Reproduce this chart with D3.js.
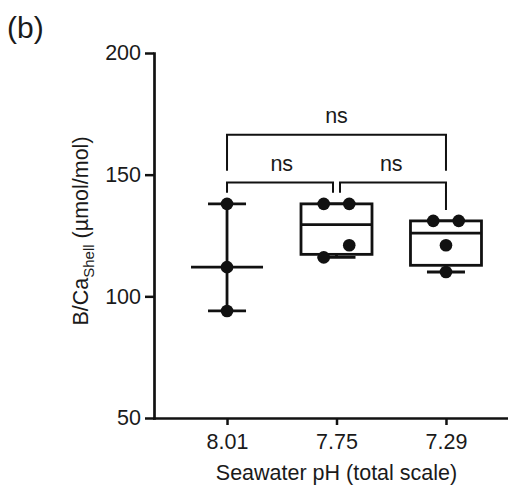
<!DOCTYPE html>
<html>
<head>
<meta charset="utf-8">
<script src="https://cdn.jsdelivr.net/npm/d3@7/dist/d3.min.js"></script>
<style>
  html, body { margin: 0; padding: 0; background: #fff; }
  svg { display: block; font-family: "Liberation Sans", Arial, sans-serif; }
</style>
</head>
<body>
<svg id="chart" width="508" height="487"></svg>
<script>
// Seawater pH treatments (total scale)
const categories = ["8.01", "7.75", "7.29"];
// Shell B/Ca per replicate (µmol/mol)
const ph801 = [138, 112, 94];
const ph775 = [138, 138, 121, 116];
const ph729 = [131, 131, 121, 110];
const yTicks = [50, 100, 150, 200];
// Pairwise comparisons: [group A, group B, result]
const comparisons = [
  ["8.01", "7.75", "ns"],
  ["7.75", "7.29", "ns"],
  ["8.01", "7.29", "ns"]
];

const groups = categories.map((c, i) => ({ cat: c, values: [ph801, ph775, ph729][i] }));

const svg = d3.select("#chart");
const ink = "#111";
const fontSize = 21.5;

const x = d3.scalePoint().domain(categories).range([154, 519]).padding(0.667);
const y = d3.scaleLinear().domain([50, 200]).range([418, 53]);

// Quantile using the (n+1)p rank convention
function quant(sortedAsc, p) {
  const n = sortedAsc.length;
  const r = (n + 1) * p;
  if (r <= 1) return sortedAsc[0];
  if (r >= n) return sortedAsc[n - 1];
  const lo = Math.floor(r);
  return sortedAsc[lo - 1] + (r - lo) * (sortedAsc[lo] - sortedAsc[lo - 1]);
}

// Axes
const yAxis = svg.append("g")
  .attr("transform", "translate(154,0)")
  .call(d3.axisLeft(y).tickValues(yTicks).tickSize(9).tickSizeOuter(0).tickPadding(4));
const xAxis = svg.append("g")
  .attr("transform", "translate(0,418)")
  .call(d3.axisBottom(x).tickSize(7).tickSizeOuter(0).tickPadding(8.5));
[yAxis, xAxis].forEach(g => {
  g.select(".domain").attr("stroke", ink).attr("stroke-width", 2.7).attr("stroke-linecap", "square");
  g.selectAll(".tick line").attr("stroke", ink).attr("stroke-width", 2.5);
  g.selectAll(".tick text").attr("fill", "#1a1a1a").style("font-size", fontSize + "px")
    .style("font-family", '"Liberation Sans", Arial, sans-serif');
});

// Summary marks per group
const boxW = 71, capW = 38, medW = 72, lw = 2.8;
const marks = svg.append("g").attr("stroke", ink).attr("stroke-width", lw).attr("fill", "none");
groups.forEach(g => {
  const s = g.values.slice().sort(d3.ascending);
  const cx = x(g.cat);
  const mn = s[0], mx = s[s.length - 1];
  const med = d3.median(s);
  if (s.length < 4) {
    // median with range
    marks.append("line").attr("x1", cx).attr("x2", cx).attr("y1", y(mx)).attr("y2", y(mn));
    [mn, mx].forEach(v => marks.append("line")
      .attr("x1", cx - capW / 2).attr("x2", cx + capW / 2).attr("y1", y(v)).attr("y2", y(v)));
    marks.append("line").attr("x1", cx - medW / 2).attr("x2", cx + medW / 2)
      .attr("y1", y(med)).attr("y2", y(med));
  } else {
    const q1 = quant(s, 0.25), q3 = quant(s, 0.75);
    marks.append("line").attr("x1", cx).attr("x2", cx).attr("y1", y(q1)).attr("y2", y(mn));
    marks.append("line").attr("x1", cx).attr("x2", cx).attr("y1", y(q3)).attr("y2", y(mx));
    [mn, mx].forEach(v => marks.append("line")
      .attr("x1", cx - capW / 2).attr("x2", cx + capW / 2).attr("y1", y(v)).attr("y2", y(v)));
    marks.append("rect").attr("x", cx - boxW / 2).attr("width", boxW)
      .attr("y", y(q3)).attr("height", y(q1) - y(q3)).attr("fill", "#fff");
    marks.append("line").attr("x1", cx - boxW / 2).attr("x2", cx + boxW / 2)
      .attr("y1", y(med)).attr("y2", y(med));
  }
});

// Replicate points, spread sideways where they would overlap
const r = 6.3, spread = 25.5, near = 14;
const dots = svg.append("g").attr("fill", ink);
groups.forEach(g => {
  const cx = x(g.cat);
  const desc = g.values.slice().sort(d3.descending);
  const clusters = [];
  desc.forEach(v => {
    const last = clusters[clusters.length - 1];
    if (last && Math.abs(y(v) - y(last[last.length - 1])) < near) last.push(v);
    else clusters.push([v]);
  });
  clusters.forEach(cl => {
    const asc = cl.slice().sort(d3.ascending);
    asc.forEach((v, i) => {
      dots.append("circle")
        .attr("cx", cx + (i - (asc.length - 1) / 2) * spread)
        .attr("cy", y(v)).attr("r", r);
    });
  });
});

// Significance brackets
const groupMax = c => d3.max(groups.find(g => g.cat === c).values);
const allMax = d3.max(groups, g => d3.max(g.values));
const tierBase = y(allMax) - 21.3, tierGap = 47.7, legGap = 11, labelLift = 11.5;
const br = svg.append("g").attr("stroke", ink).attr("stroke-width", 2).attr("fill", "none");
const brText = svg.append("g").attr("fill", "#1a1a1a").attr("text-anchor", "middle")
  .style("font-size", fontSize + "px");
comparisons.forEach(([a, b, label]) => {
  const ia = categories.indexOf(a), ib = categories.indexOf(b);
  const tier = ib - ia - 1;
  const yl = tierBase - tier * tierGap;
  const adjacent = tier === 0;
  // adjacent brackets stop short of a shared middle group
  const xa = x(a) + (adjacent && ia > 0 ? 3.5 : 0);
  const xb = x(b) - (adjacent && ib < categories.length - 1 ? 3.5 : 0);
  const ya = adjacent ? y(groupMax(a)) - legGap : yl + 36;
  const yb = adjacent ? y(groupMax(b)) - legGap : yl + 36;
  br.append("path").attr("d", `M${xa},${ya}V${yl}H${xb}V${yb}`);
  brText.append("text").attr("x", (x(a) + x(b)) / 2).attr("y", yl - labelLift).text(label);
});

// Axis titles
const yt = svg.append("text").attr("fill", "#1a1a1a").attr("text-anchor", "middle")
  .attr("transform", "translate(88,231) rotate(-90)").style("font-size", fontSize + "px");
yt.append("tspan").text("B/Ca");
yt.append("tspan").attr("dy", 6).style("font-size", "15px").text("Shell");
yt.append("tspan").attr("dy", -6).text(" (µmol/mol)");

svg.append("text").attr("fill", "#1a1a1a").attr("text-anchor", "middle")
  .attr("x", x("7.75")).attr("y", 480).style("font-size", fontSize + "px")
  .text("Seawater pH (total scale)");

svg.append("text").attr("fill", "#1a1a1a").attr("x", 7).attr("y", 38)
  .style("font-size", "30px").text("(b)");
</script>
</body>
</html>
